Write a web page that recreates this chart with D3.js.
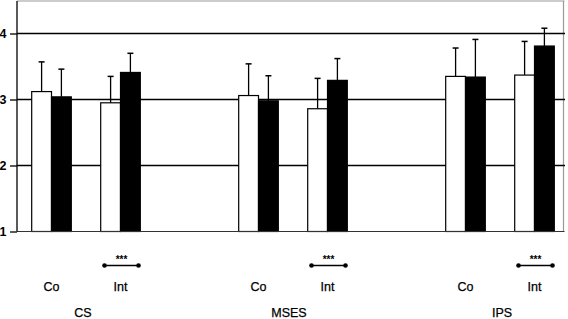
<!DOCTYPE html>
<html><head><meta charset="utf-8">
<script src="https://cdn.jsdelivr.net/npm/d3@7"></script>
<style>body{margin:0;background:#fff;} svg{display:block;}</style>
</head><body>
<svg id="c" width="568" height="319"></svg>
<script>
const groups = ["CS", "MSES", "IPS"];
const subgroups = ["Co", "Int"];
// white bar (pre) and black bar (post) means, and upper error ends
const whiteMean = [[3.12, 2.95], [3.06, 2.86], [3.35, 3.37]];
const whiteErr  = [[3.57, 3.35], [3.54, 3.32], [3.78, 3.88]];
const blackMean = [[3.04, 3.41], [2.98, 3.29], [3.34, 3.81]];
const blackErr  = [[3.46, 3.70], [3.36, 3.62], [3.91, 4.08]];
const yTicks = [1, 2, 3, 4];
const gridTicks = [2, 3, 4];
const sigLabel = "***";

(function () {
const svg = d3.select("#c");
const mLeft = 17, mTop = 1, mBottom = 231.5, mRight = 563.5;
const font = "'Liberation Sans', Arial, Helvetica, sans-serif";

const slots = [];
groups.forEach(g => { subgroups.forEach(s => slots.push(g + "-" + s)); slots.push(g + "-gap"); });
const x = d3.scaleBand().domain(slots).range([mLeft, mLeft + 69 * slots.length]).paddingInner(0).paddingOuter(0);
const y = d3.scaleLinear().domain([1, 4.5]).range([mBottom, mBottom - 3.5 * 66]);
const barW = 19.8;

// frame
svg.append("line").attr("x1", mLeft).attr("x2", mRight + 1).attr("y1", mTop).attr("y2", mTop).attr("stroke", "#999").attr("stroke-width", 1.2);
svg.append("line").attr("x1", mRight).attr("x2", mRight).attr("y1", mTop).attr("y2", mBottom).attr("stroke", "#999").attr("stroke-width", 1.2);

// gridlines
svg.append("g").selectAll("line").data(gridTicks).join("line")
  .attr("x1", mLeft).attr("x2", mRight + 1.5)
  .attr("y1", d => y(d)).attr("y2", d => y(d))
  .attr("stroke", "#000").attr("stroke-width", 1.3);

// bars
const bars = [];
groups.forEach((g, gi) => subgroups.forEach((s, si) => {
  const cx = x(g + "-" + s) + x.bandwidth() / 2;
  bars.push({x0: cx - barW, mean: whiteMean[gi][si], err: whiteErr[gi][si], fill: "#fff"});
  bars.push({x0: cx, mean: blackMean[gi][si], err: blackErr[gi][si], fill: "#000"});
}));

const bg = svg.append("g");
bg.selectAll("line.e").data(bars).join("line").attr("class", "e")
  .attr("x1", d => d.x0 + barW / 2).attr("x2", d => d.x0 + barW / 2)
  .attr("y1", d => y(d.mean)).attr("y2", d => y(d.err))
  .attr("stroke", "#000").attr("stroke-width", 1.3);
bg.selectAll("line.c").data(bars).join("line").attr("class", "c")
  .attr("x1", d => d.x0 + barW / 2 - 3).attr("x2", d => d.x0 + barW / 2 + 3)
  .attr("y1", d => y(d.err)).attr("y2", d => y(d.err))
  .attr("stroke", "#000").attr("stroke-width", 1.5);
bg.selectAll("rect").data(bars).join("rect")
  .attr("x", d => d.x0).attr("width", barW)
  .attr("y", d => y(d.mean)).attr("height", d => y(1) - y(d.mean))
  .attr("fill", d => d.fill).attr("stroke", "#000").attr("stroke-width", 1.2);

// baseline
svg.append("line").attr("x1", mLeft).attr("x2", mRight + 1).attr("y1", y(1)).attr("y2", y(1)).attr("stroke", "#333").attr("stroke-width", 1.2);

// y axis
const yAxis = d3.axisLeft(y).tickValues(yTicks).tickSize(7).tickFormat(d3.format("d"));
const ya = svg.append("g").attr("transform", `translate(${mLeft},0)`).call(yAxis);
ya.select(".domain").attr("d", `M0,${mTop}V${mBottom}`).attr("stroke", "#000").attr("stroke-width", 1.3);
ya.selectAll(".tick line").attr("stroke", "#000").attr("stroke-width", 1.3);
ya.selectAll(".tick text").attr("x", -10.5).attr("font-family", font).attr("font-size", 12.5).attr("font-weight", "bold").attr("fill", "#000");

// subgroup labels
groups.forEach(g => subgroups.forEach(s => {
  svg.append("text").attr("x", x(g + "-" + s) + x.bandwidth() / 2).attr("y", 291)
    .attr("text-anchor", "middle").attr("font-family", font).attr("font-size", 12.5)
    .attr("fill", "#000").attr("stroke", "#000").attr("stroke-width", 0.25).text(s);
}));
// group labels
const groupShift = [-3, -4, 2];
groups.forEach((g, gi) => {
  svg.append("text").attr("x", x(g + "-Co") + x.bandwidth() + groupShift[gi]).attr("y", 317)
    .attr("text-anchor", "middle").attr("font-family", font).attr("font-size", 12.5)
    .attr("fill", "#000").attr("stroke", "#000").attr("stroke-width", 0.25).text(g);
});

// significance markers on Int
groups.forEach(g => {
  const cx = x(g + "-Int") + x.bandwidth() / 2;
  const gg = svg.append("g");
  gg.append("line").attr("x1", cx - 16).attr("x2", cx + 18).attr("y1", 265.5).attr("y2", 265.5).attr("stroke", "#000").attr("stroke-width", 1.3);
  gg.selectAll("circle").data([cx - 16, cx + 18]).join("circle").attr("cx", d => d).attr("cy", 265.5).attr("r", 2.3).attr("fill", "#000");
  gg.append("text").attr("x", cx + 1).attr("y", 263).attr("text-anchor", "middle").attr("font-family", font).attr("font-size", 10).attr("font-weight", "bold").attr("fill", "#000").text(sigLabel);
});
})();
</script>
</body></html>
